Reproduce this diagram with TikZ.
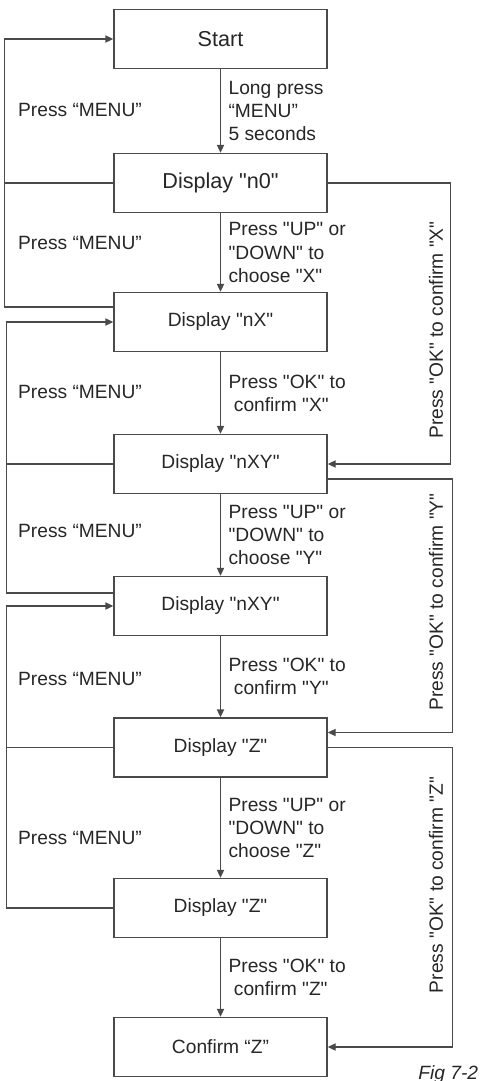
\documentclass[tikz,border=0pt]{standalone}
\usepackage{fontspec}
\setmainfont{Liberation Sans}[Ligatures=TeXOff]
\usepackage{xcolor}
\usepackage{tikz}
\usetikzlibrary{arrows.meta,positioning}
\definecolor{cLine}{HTML}{4A4A4A}
\definecolor{cText}{HTML}{262626}
\tikzset{
  stbox/.style = {rectangle, draw=cLine, line width=0.7pt, text=cText,
                  minimum width=106.5pt, minimum height=29.5pt, inner sep=2pt,
                  font=\fontsize{9.6}{11.6}\selectfont},
  bigbox/.style = {stbox, font=\fontsize{10.8}{13}\selectfont},
  fl/.style    = {-{Triangle[length=4pt, width=3.6pt]}, draw=cLine, line width=0.7pt},
  ln/.style    = {draw=cLine, line width=0.7pt},
  lab/.style   = {align=left, text=cText, inner sep=1pt,
                  font=\fontsize{9.6}{11.6}\selectfont},
  menu/.style  = {text=cText, inner sep=0pt, font=\fontsize{9.6}{11.6}\selectfont},
}

\begin{document}
\begin{tikzpicture}[x=0.5pt, y=-0.5pt]
  \useasboundingbox (0,0) rectangle (482,1081);

  \node[bigbox] (st)   at (220.5,39)   {Start};
  \node[bigbox] (d0)   at (220.5,183)  {Display "n0"};
  \node[stbox]  (dx)   at (220.5,322)  {Display "nX"};
  \node[stbox]  (dxy)  at (220.5,464)  {Display "nXY"};
  \node[stbox]  (dxy2) at (220.5,606)  {Display "nXY"};
  \node[stbox]  (dz)   at (220.5,747.5){Display "Z"};
  \node[stbox]  (dz2)  at (220.5,908)  {Display "Z"};
  \node[stbox]  (cz)   at (220.5,1047) {Confirm “Z”};

  % main chain
  \draw[fl] (st)   -- node[lab, right=2.7pt]{Long press\\“MENU”\\5 seconds} (d0);
  \draw[fl] (d0)   -- node[lab, right=2.7pt]{Press "UP" or\\"DOWN" to\\choose "X"} (dx);
  \draw[fl] (dx)   -- node[lab, right=2.7pt]{Press "OK" to\\\ confirm "X"} (dxy);
  \draw[fl] (dxy)  -- node[lab, right=2.7pt]{Press "UP" or\\"DOWN" to\\choose "Y"} (dxy2);
  \draw[fl] (dxy2) -- node[lab, right=2.7pt]{Press "OK" to\\\ confirm "Y"} (dz);
  \draw[fl] (dz)   -- node[lab, right=2.7pt]{Press "UP" or\\"DOWN" to\\choose "Z"} (dz2);
  \draw[fl] (dz2)  -- node[lab, right=2.7pt]{Press "OK" to\\\ confirm "Z"} (cz);

  % back with MENU
  \draw[fl] (d0.west) -- ++(-109,0) coordinate (m1) |- (st.west);
  \draw[ln] ([yshift=7.5pt]dx.west) -| (m1);
  \draw[fl] (dxy.west) -- ++(-107,0) coordinate (m2) |- (dx.west);
  \draw[ln] ([yshift=6.5pt]dxy2.west) -| (m2);
  \draw[fl] (dz.west) -- ++(-107,0) coordinate (m3) |- (dxy2.west);
  \draw[ln] (dz2.west) -| (m3);

  \foreach \y in {110,243,392,531,679,838}
    \node[menu] at (80,\y) {Press “MENU”};

  % skip with OK
  \draw[fl] (d0.east) -- ++(123,0) |- (dxy.east);
  \draw[fl] ([yshift=-7.5pt]dxy.east) -- ++(125,0) |- ([yshift=7.5pt]dz.east);
  \draw[fl] (dz.east) -- ++(125,0) |- (cz.east);
  \node[lab, rotate=90] (okx) at (436,330) {Press "OK" to confirm "X"};
  \node[lab, rotate=90] (oky) at (436,602) {Press "OK" to confirm "Y"};
  \node[lab, rotate=90] (okz) at (436,885) {Press "OK" to confirm "Z"};

  \node[lab, anchor=base west, inner sep=0pt, font=\fontsize{9.6}{11.6}\selectfont\itshape]
    (fig) at (418,1079) {Fig 7-2};
\end{tikzpicture}
\end{document}
